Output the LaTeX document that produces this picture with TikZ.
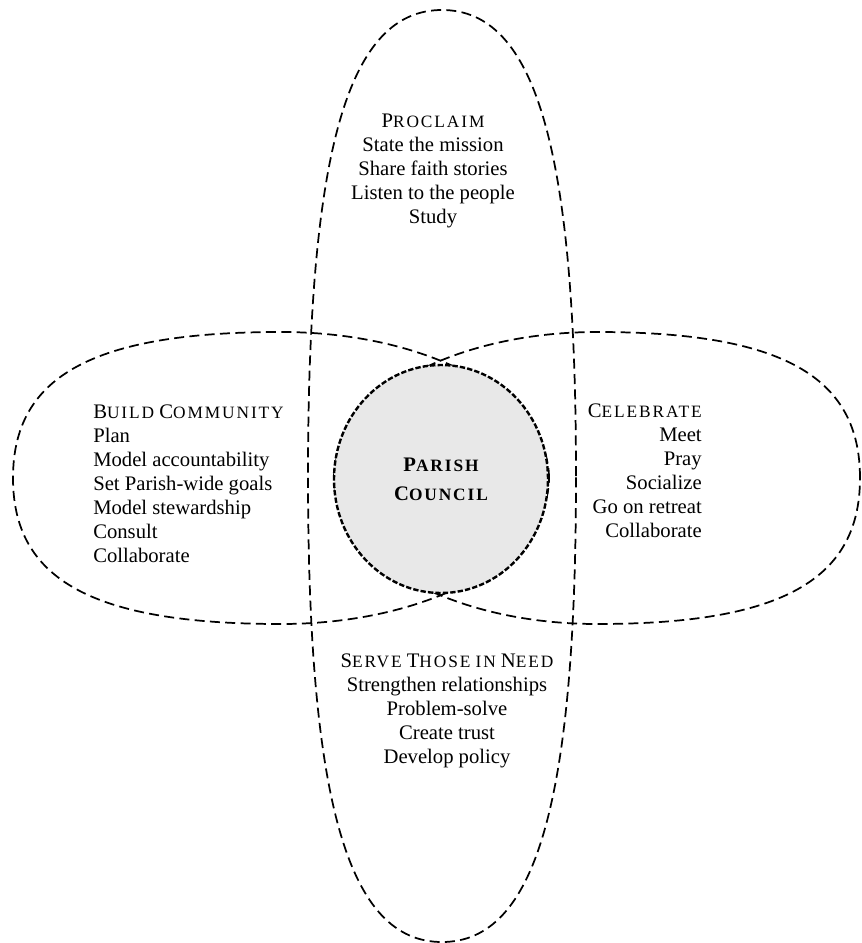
\documentclass[tikz,border=0pt]{standalone}
\usepackage{fontspec}
\setmainfont{Liberation Serif}
\newfontfamily\headfont[LetterSpace=11]{Liberation Serif}
\usetikzlibrary{shapes.geometric}
% faked small capitals: full-size initial, smaller capitals after it
\newcommand\scap[2]{{\headfont\fontsize{15.5}{18}\selectfont #1\fontsize{13}{18}\selectfont #2}}
\newcommand\scsmall[1]{{\headfont\fontsize{13}{18}\selectfont #1}}
\begin{document}
\begin{tikzpicture}[x=0.75pt,y=-0.75pt,
  oval/.style={line width=1.3pt, dash pattern=on 7.5pt off 4pt},
  body/.style={inner sep=0pt, font=\fontsize{15.5}{18}\selectfont},
  council/.style={ellipse, draw, fill=black!9, line width=1.8pt,
    dash pattern=on 4pt off 1.6pt, minimum width=160.5pt, minimum height=171pt,
    inner sep=0pt, align=center, font=\fontsize{15.5}{22}\selectfont\bfseries}]
\useasboundingbox (0,0) rectangle (862,943);

% vertical oval
\draw[oval] (576,476) .. controls (576,149.8) and (535.8,10) .. (442,10)
  .. controls (348.2,10) and (308,149.8) .. (308,476)
  .. controls (308,802.2) and (348.2,942) .. (442,942)
  .. controls (535.8,942) and (576,802.2) .. (576,476);
% left oval, its inner end meeting the centre
\draw[oval] (549,478) .. controls (549,397.4) and (429,332) .. (281,332)
  .. controls (93.4,332) and (13,375.8) .. (13,478)
  .. controls (13,580.2) and (93.4,624) .. (281,624)
  .. controls (429,624) and (549,558.6) .. (549,478);
% right oval, its inner end meeting the centre
\draw[oval] (860,478) .. controls (860,375.8) and (781.1,332) .. (597,332)
  .. controls (451.8,332) and (334,397.4) .. (334,478)
  .. controls (334,558.6) and (451.8,624) .. (597,624)
  .. controls (781.1,624) and (860,580.2) .. (860,478);

% centre
\node[council] (pc) at (441,479) {\scap{P}{ARISH}\\\scap{C}{OUNCIL}};

\node[body, align=center] (proclaim) at (433,171)
  {\scap{P}{ROCLAIM}\\State the mission\\Share faith stories\\Listen to the people\\Study};
\node[body, align=left, anchor=west] (build) at (93,484)
  {\scap{B}{UILD} \scap{C}{OMMUNITY}\\Plan\\Model accountability\\Set Parish-wide goals\\Model stewardship\\Consult\\Collaborate};
\node[body, align=right, anchor=east] (celebrate) at (702,471)
  {\scap{C}{ELEBRATE}\\Meet\\Pray\\Socialize\\Go on retreat\\Collaborate};
\node[body, align=center] (serve) at (447,711)
  {\scap{S}{ERVE} \scap{T}{HOSE} \scsmall{IN} \scap{N}{EED}\\Strengthen relationships\\Problem-solve\\Create trust\\Develop policy};
\end{tikzpicture}
\end{document}
